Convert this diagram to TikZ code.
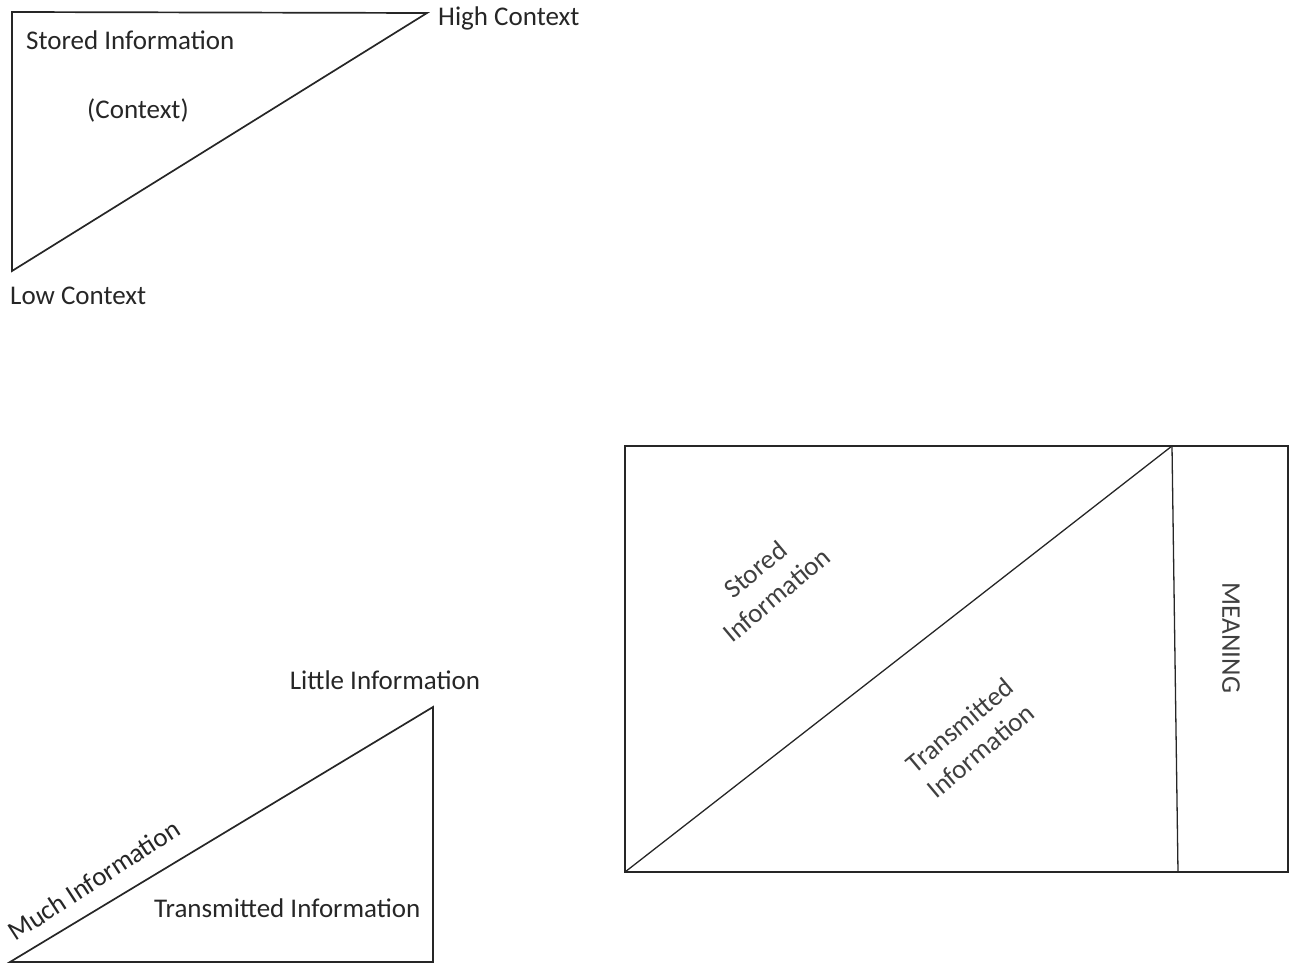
\documentclass[tikz,border=0pt]{standalone}
\usepackage{fontspec}
\setmainfont{Carlito}
\usetikzlibrary{
  positioning,  % relative placement
  calc
}
\tikzset{
  px/.style={x=1pt,y=-1pt},
  font=\fontsize{27}{33}\selectfont,
  my line/.style={line width=1.7pt,line join=miter,draw=black!85},
  my thin/.style={line width=1.3pt,draw=black!85},
  my label/.style={inner sep=0pt,text=black!85},
  my turned/.style={my label,align=center,text=black!75}
}
\begin{document}
\begin{tikzpicture}[px]
\useasboundingbox (0,0) rectangle (1294,963);
% context triangle
\coordinate (st)  at (12,12);
\coordinate (hi)  at (427,13);
\coordinate (lo)  at (12,271);
\draw[my line] (st) -- (hi) -- (lo) -- cycle;
\node[my label,anchor=base west] (hiText)  at (438,26)  {High Context};
\node[my label,anchor=base west] (loText)  at (10,304)  {Low Context};
\node[my label,anchor=base west] (stText)  at (26,50)   {Stored Information};
\node[my label,anchor=base]      (ctxText) at (138,119) {(Context)};
% information triangle
\coordinate (much)   at (10,962);
\coordinate (little) at (433,707);
\coordinate (corner) at (433,962);
\draw[my line] (much) -- (little) -- (corner) -- cycle;
\node[my label,anchor=base]      (litText)  at (385,689) {Little Information};
\node[my label,anchor=base west] (trText)   at (154,917) {Transmitted Information};
\node[my label,rotate=33]        (muchText) at (94,880)  {Much Information};
% meaning box
\coordinate (boxTL) at (625,446);
\coordinate (boxBR) at (1288,872);
\coordinate (boxBL) at (625,872);
\coordinate (divT)  at (1172,446);
\coordinate (divB)  at (1178,872);
\draw[my line] (boxTL) rectangle (boxBR);
\draw[my thin] (boxBL) -- (divT);
\draw[my thin] (divT) -- (divB);
\node[my turned,rotate=40]  (boxSt)  at (766,582) {Stored\\Information};
\node[my turned,rotate=40]  (boxTr)  at (970,738) {Transmitted\\Information};
\node[my turned,rotate=-90] (meanText) at (1231,638) {MEANING};
\end{tikzpicture}
\end{document}
